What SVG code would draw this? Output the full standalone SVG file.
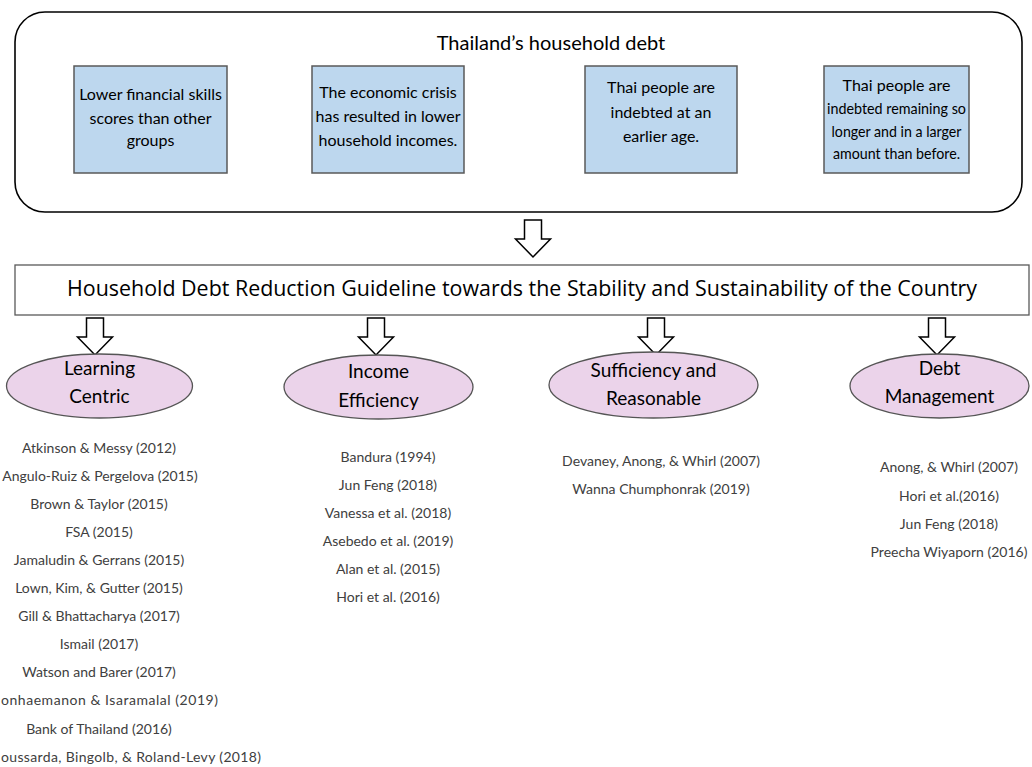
<svg xmlns="http://www.w3.org/2000/svg" xmlns:xlink="http://www.w3.org/1999/xlink" width="1032" height="767" viewBox="0 0 1032 767">
<defs>
<style>
.frame{fill:#fff;stroke:#000;stroke-width:1.6}
.box{fill:#BDD7EE;stroke:#595959;stroke-width:1.5}
.bt{font-family:Lato,"Noto Sans",sans-serif;font-size:16px;fill:#000;text-anchor:middle}
.title{font-family:Lato,"Noto Sans",sans-serif;font-size:20px;fill:#000;text-anchor:middle}
.banner{fill:#fff;stroke:#595959;stroke-width:1.3}
.bannert{font-family:"Open Sans","Liberation Sans",sans-serif;font-size:22px;fill:#000;text-anchor:middle}
.ell{fill:#EBD3EA;stroke:#555;stroke-width:1.3}
.et{font-family:Lato,"Noto Sans",sans-serif;font-size:19px;fill:#000;text-anchor:middle}
.ref{font-family:Lato,"Noto Sans",sans-serif;font-size:14px;fill:#404040;text-anchor:middle}
.arr{fill:#fff;stroke:#000;stroke-width:1.5;stroke-linejoin:miter}
</style>
<path id="darrow" class="arr" d="M-8.5,0 H8.5 V19 H17.5 L0,37 L-17.5,19 H-8.5 Z"/>
</defs>

<g id="household-debt">
<rect class="frame" x="15" y="12" width="1007" height="200" rx="30" ry="30"/>
<text class="title" x="551" y="50">Thailand’s household debt</text>
</g>

<g id="cause1">
<rect class="box" x="74" y="66" width="153" height="107"/>
<text class="bt" x="150.5" y="100">Lower financial skills</text>
<text class="bt" x="150.5" y="124">scores than other</text>
<text class="bt" x="150.5" y="146">groups</text>
</g>
<g id="cause2">
<rect class="box" x="312" y="66" width="152" height="107"/>
<text class="bt" x="388" y="98">The economic crisis</text>
<text class="bt" x="388" y="122">has resulted in lower</text>
<text class="bt" x="388" y="146">household incomes.</text>
</g>
<g id="cause3">
<rect class="box" x="585" y="66" width="152" height="107"/>
<text class="bt" x="661" y="93">Thai people are</text>
<text class="bt" x="661" y="118">indebted at an</text>
<text class="bt" x="661" y="142">earlier age.</text>
</g>
<g id="cause4">
<rect class="box" x="824" y="66" width="145" height="107"/>
<text class="bt" x="896.5" y="91">Thai people are</text>
<text class="bt" x="896.5" y="114" textLength="139" lengthAdjust="spacingAndGlyphs">indebted remaining so</text>
<text class="bt" x="896.5" y="137" textLength="130" lengthAdjust="spacingAndGlyphs">longer and in a larger</text>
<text class="bt" x="896.5" y="159" textLength="127" lengthAdjust="spacingAndGlyphs">amount than before.</text>
</g>

<g id="guideline">
<rect class="banner" x="15" y="265" width="1014" height="50"/>
<text class="bannert" x="522" y="296" textLength="910" lengthAdjust="spacingAndGlyphs">Household Debt Reduction Guideline towards the Stability and Sustainability of the Country</text>
</g>

<g id="connectors">
<use xlink:href="#darrow" href="#darrow" x="533" y="220"/>
<use xlink:href="#darrow" href="#darrow" x="95" y="318"/>
<use xlink:href="#darrow" href="#darrow" x="376" y="318"/>
<use xlink:href="#darrow" href="#darrow" x="656" y="318"/>
<use xlink:href="#darrow" href="#darrow" x="937" y="318"/>
</g>

<g id="learning-centric">
<ellipse class="ell" cx="99.5" cy="386" rx="93" ry="32"/>
<text class="et" x="99.5" y="375">Learning</text>
<text class="et" x="99.5" y="403">Centric</text>
<text class="ref" x="99" y="453">Atkinson &amp; Messy (2012)</text>
<text class="ref" x="100" y="481">Angulo-Ruiz &amp; Pergelova (2015)</text>
<text class="ref" x="99" y="509">Brown &amp; Taylor (2015)</text>
<text class="ref" x="99" y="537">FSA (2015)</text>
<text class="ref" x="99" y="565">Jamaludin &amp; Gerrans (2015)</text>
<text class="ref" x="99" y="593">Lown, Kim, &amp; Gutter (2015)</text>
<text class="ref" x="99" y="621">Gill &amp; Bhattacharya (2017)</text>
<text class="ref" x="99" y="649">Ismail (2017)</text>
<text class="ref" x="99" y="677">Watson and Barer (2017)</text>
<text class="ref" x="1" y="705" style="text-anchor:start" textLength="217">onhaemanon &amp; Isaramalal (2019)</text>
<text class="ref" x="99" y="734">Bank of Thailand (2016)</text>
<text class="ref" x="1" y="762" style="text-anchor:start" textLength="260">oussarda, Bingolb, &amp; Roland-Levy (2018)</text>
</g>

<g id="income-efficiency">
<ellipse class="ell" cx="378.5" cy="387" rx="94.5" ry="32"/>
<text class="et" x="378.5" y="378">Income</text>
<text class="et" x="378.5" y="407">Efficiency</text>
<text class="ref" x="388" y="462">Bandura (1994)</text>
<text class="ref" x="388" y="490">Jun Feng (2018)</text>
<text class="ref" x="388" y="518">Vanessa et al. (2018)</text>
<text class="ref" x="388" y="546">Asebedo et al. (2019)</text>
<text class="ref" x="388" y="574">Alan et al. (2015)</text>
<text class="ref" x="388" y="602">Hori et al. (2016)</text>
</g>

<g id="sufficiency-reasonable">
<ellipse class="ell" cx="653.5" cy="385" rx="104.5" ry="33"/>
<text class="et" x="653.5" y="377">Sufficiency and</text>
<text class="et" x="653.5" y="405">Reasonable</text>
<text class="ref" x="661" y="466">Devaney, Anong, &amp; Whirl (2007)</text>
<text class="ref" x="661" y="494">Wanna Chumphonrak (2019)</text>
</g>

<g id="debt-management">
<ellipse class="ell" cx="939.5" cy="386" rx="89.5" ry="32"/>
<text class="et" x="939.5" y="375">Debt</text>
<text class="et" x="939.5" y="403">Management</text>
<text class="ref" x="949" y="472">Anong, &amp; Whirl (2007)</text>
<text class="ref" x="949" y="501">Hori et al.(2016)</text>
<text class="ref" x="949" y="529">Jun Feng (2018)</text>
<text class="ref" x="949" y="557">Preecha Wiyaporn (2016)</text>
</g>
</svg>
